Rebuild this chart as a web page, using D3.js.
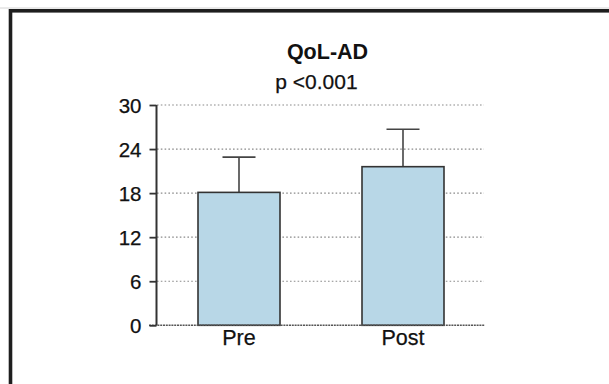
<!DOCTYPE html>
<html><head><meta charset="utf-8">
<script src="https://cdn.jsdelivr.net/npm/d3@7"></script>
<style>html,body{margin:0;padding:0;background:#fff;}svg{display:block;}</style>
</head><body>
<svg id="c" width="609" height="384"></svg>
<script>
const categories = ["Pre", "Post"];
const means = [18.1, 21.6];
const sds = [4.8, 5.1];
const yTicks = [0, 6, 12, 18, 24, 30];
const title = "QoL-AD";
const subtitle = "p <0.001";

const svg = d3.select("#c");
const font = "'Liberation Sans', Arial, sans-serif";

// outer frame
svg.append("line").attr("x1", 0).attr("x2", 609).attr("y1", 8).attr("y2", 8)
  .attr("stroke", "#d4d4d4").attr("stroke-width", 1);
svg.append("rect").attr("x", 10.5).attr("y", 10.8).attr("width", 640).attr("height", 420)
  .attr("fill", "none").attr("stroke", "#1e1e1e").attr("stroke-width", 3.6);

const x = d3.scaleBand().domain(categories).range([157, 485]).paddingInner(0.5).paddingOuter(0.25);
const y = d3.scaleLinear().domain([0, 30]).range([325.3, 105]);

// grid
svg.append("g").selectAll("line").data(yTicks.filter(d => d > 0)).join("line")
  .attr("x1", 157).attr("x2", 484)
  .attr("y1", d => y(d)).attr("y2", d => y(d))
  .attr("stroke", "#8a8a8a").attr("stroke-width", 1.2).attr("stroke-dasharray", "1.6,2.2");

// error bars
const eb = svg.append("g");
categories.forEach((c, i) => {
  const cx = x(c) + x.bandwidth() / 2;
  eb.append("line").attr("x1", cx).attr("x2", cx).attr("y1", y(means[i])).attr("y2", y(means[i] + sds[i]))
    .attr("stroke", "#444").attr("stroke-width", 1.6);
  eb.append("line").attr("x1", cx - 16.5).attr("x2", cx + 16.5)
    .attr("y1", y(means[i] + sds[i])).attr("y2", y(means[i] + sds[i]))
    .attr("stroke", "#444").attr("stroke-width", 1.6);
});

// bars
svg.append("g").selectAll("rect").data(categories).join("rect")
  .attr("x", d => x(d)).attr("width", x.bandwidth())
  .attr("y", (d, i) => y(means[i])).attr("height", (d, i) => y(0) - y(means[i]))
  .attr("fill", "#b8d7e7").attr("stroke", "#333").attr("stroke-width", 1.6);

// x baseline
svg.append("line").attr("x1", 149).attr("x2", 485).attr("y1", y(0)).attr("y2", y(0))
  .attr("stroke", "#555").attr("stroke-width", 1.6).attr("stroke-dasharray", "2,0.8");

// y axis
const yAxis = d3.axisLeft(y).tickValues(yTicks).tickSize(7).tickPadding(8);
const ga = svg.append("g").attr("transform", "translate(156.5,0)").call(yAxis);
ga.select(".domain").attr("stroke", "#333").attr("stroke-width", 2).attr("d", `M0,${y(30)}V${y(0)}`);
ga.selectAll(".tick line").attr("stroke", "#333").attr("stroke-width", 1.8);
ga.selectAll(".tick text").attr("font-family", font).attr("font-size", 20.5).attr("fill", "#111")
  .attr("stroke", "#111").attr("stroke-width", 0.25).attr("dy", "0.36em");

// x labels
svg.append("g").selectAll("text").data(categories).join("text")
  .attr("x", d => x(d) + x.bandwidth() / 2).attr("y", 345)
  .attr("text-anchor", "middle").attr("font-family", font).attr("font-size", 21.5).attr("fill", "#111")
  .attr("stroke", "#111").attr("stroke-width", 0.25)
  .text(d => d);

// titles
svg.append("text").attr("x", 327.5).attr("y", 58.5).attr("text-anchor", "middle")
  .attr("font-family", font).attr("font-weight", "bold").attr("font-size", 21.5).attr("fill", "#111").text(title);
svg.append("text").attr("x", 316.5).attr("y", 89).attr("text-anchor", "middle")
  .attr("font-family", font).attr("font-size", 21).attr("fill", "#111")
  .attr("stroke", "#111").attr("stroke-width", 0.25).text(subtitle);
</script>
</body></html>
